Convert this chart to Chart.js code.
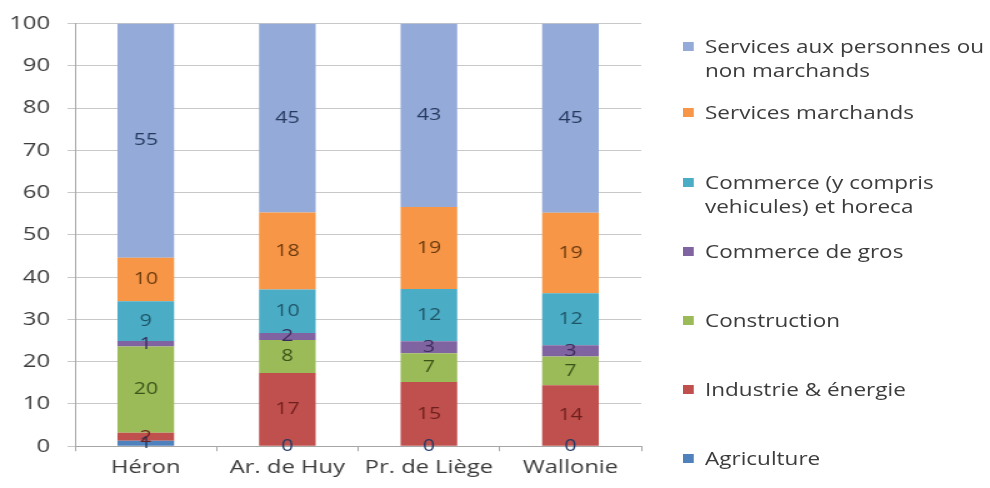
<!DOCTYPE html>
<html>
<head>
<meta charset="utf-8">
<script src="https://cdn.jsdelivr.net/npm/chart.js@4/dist/chart.umd.min.js"></script>
<style>
  body { margin: 0; background: #fff; }
  /* the whole figure is drawn a bit narrow, then widened */
  #wrap { position: relative; width: 792px; height: 488px; transform: scaleX(1.25); transform-origin: 0 0; }
  #legend { position: absolute; left: 546px; top: 0; font-family: "Open Sans", sans-serif; font-size: 18px; color: #3c3c3c; }
  .item { position: absolute; left: 0; width: 236px; line-height: 24px; padding-left: 18px; }
  .item .box { position: absolute; left: 0; top: 8px; width: 9px; height: 9px; }
</style>
</head>
<body>
<div id="wrap">
  <canvas id="myChart" width="792" height="488"></canvas>
  <div id="legend"></div>
</div>
<script>
var categories = ['Héron', 'Ar. de Huy', 'Pr. de Liège', 'Wallonie'];

var agriculture       = [1.3, 0, 0, 0];
var industrie         = [1.9, 17.3, 15.2, 14.4];
var construction      = [20.4, 7.8, 6.8, 6.8];
var commerceGros      = [1.3, 1.7, 2.8, 2.7];
var commerce          = [9.4, 10.3, 12.4, 12.3];
var servicesMarchands = [10.3, 18.2, 19.4, 19.0];
var servicesPersonnes = [55.4, 44.7, 43.4, 44.8];

var yMin = 0, yMax = 100, yStep = 10;

// bottom to top of each column
var series = [
  { name: 'Agriculture', data: agriculture, color: '#4F81BD', text: '#1F3864' },
  { name: 'Industrie & énergie', data: industrie, color: '#C0504D', text: '#6E1F1D' },
  { name: 'Construction', data: construction, color: '#9BBB59', text: '#3D5418' },
  { name: 'Commerce de gros', data: commerceGros, color: '#8064A2', text: '#3B2A57' },
  { name: 'Commerce (y compris vehicules) et horeca', data: commerce, color: '#4BACC6', text: '#1E5566' },
  { name: 'Services marchands', data: servicesMarchands, color: '#F79646', text: '#6B3A0E' },
  { name: 'Services aux personnes ou non marchands', data: servicesPersonnes, color: '#94AAD8', text: '#26395E' }
];

// legend rows, top entry first
var legendTops = [34, 100, 170, 239, 308, 377, 446];

var font = "'Open Sans', sans-serif";

var valueLabels = {
  id: 'valueLabels',
  afterDatasetsDraw: function(chart) {
    var ctx = chart.ctx;
    ctx.save();
    ctx.font = '17px ' + font;
    ctx.textAlign = 'center';
    ctx.textBaseline = 'middle';
    chart.data.datasets.forEach(function(ds, i) {
      var meta = chart.getDatasetMeta(i);
      meta.data.forEach(function(bar, j) {
        ctx.fillStyle = series[i].text;
        ctx.fillText(Math.round(ds.data[j]), bar.x, (bar.y + bar.base) / 2);
      });
    });
    ctx.restore();
  }
};

var ctx = document.getElementById('myChart').getContext('2d');
new Chart(ctx, {
  type: 'bar',
  data: {
    labels: categories,
    datasets: series.map(function(s) {
      return {
        label: s.name,
        data: s.data,
        backgroundColor: s.color,
        borderWidth: 0,
        categoryPercentage: 1,
        barPercentage: 0.4
      };
    })
  },
  options: {
    responsive: false,
    animation: false,
    layout: { padding: { left: 9, right: 279, top: 11, bottom: 4 } },
    plugins: {
      legend: { display: false },
      tooltip: { enabled: false }
    },
    scales: {
      x: {
        stacked: true,
        grid: { drawOnChartArea: false, tickLength: 5, color: '#A6A6A6' },
        border: { color: '#A6A6A6' },
        ticks: { font: { family: font, size: 19 }, color: '#3c3c3c', padding: 5 }
      },
      y: {
        stacked: true,
        min: yMin,
        max: yMax,
        afterFit: function(scale) { scale.width = 51; },
        grid: { color: '#C8C8C8', tickLength: 6 },
        border: { color: '#A6A6A6' },
        ticks: { stepSize: yStep, font: { family: font, size: 19, lineHeight: 1 }, color: '#3c3c3c', padding: 14 }
      }
    }
  },
  plugins: [valueLabels]
});

var legend = document.getElementById('legend');
series.slice().reverse().forEach(function(s, k) {
  var item = document.createElement('div');
  item.className = 'item';
  item.style.top = legendTops[k] + 'px';
  var box = document.createElement('span');
  box.className = 'box';
  box.style.background = s.color;
  item.appendChild(box);
  item.appendChild(document.createTextNode(s.name));
  legend.appendChild(item);
});
</script>
</body>
</html>
